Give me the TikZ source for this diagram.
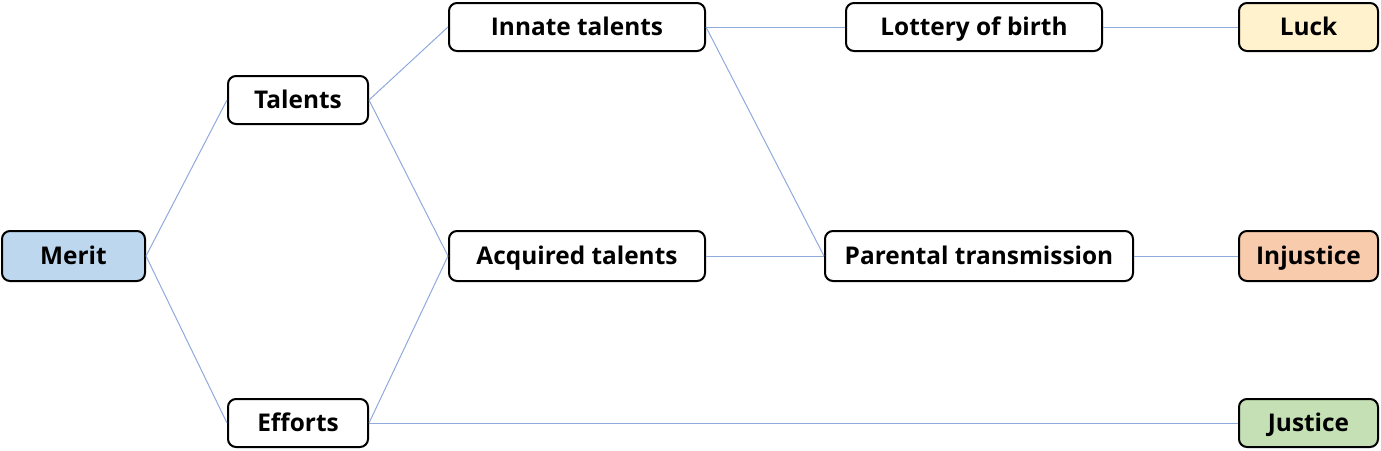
\documentclass[tikz,border=0pt]{standalone}
\usepackage{fontspec}
\setmainfont{Open Sans}
\usetikzlibrary{positioning}
\definecolor{meritblue}{HTML}{BDD7EE}
\definecolor{luckyellow}{HTML}{FFF2CC}
\definecolor{injusticeorange}{HTML}{F8CBAD}
\definecolor{justicegreen}{HTML}{C5E0B4}
\definecolor{linkblue}{HTML}{8FAADC}
\begin{document}
\begin{tikzpicture}[x=0.5pt, y=-0.5pt]
    \tikzset{
        box/.style = {rectangle, rounded corners=4pt, line width=1pt, draw=black, fill=white,
                      minimum height=24pt, inner sep=0pt, text height=8.7pt, text depth=0pt,
                      text centered, font=\bfseries\fontsize{12.2}{14}\selectfont},
        shortbox/.style = {box, minimum width=70pt},
        longbox/.style = {box, minimum width=128pt},
        link/.style = {draw=linkblue, line width=0.5pt}
    }
    \useasboundingbox (0,0) rectangle (1381,450);

    \node (merit) [shortbox, fill=meritblue, minimum width=71.5pt, minimum height=25pt] at (73.5,256) {Merit};
    \node (talents) [shortbox] at (298,100) {Talents};
    \node (efforts) [shortbox] at (298,423) {Efforts};

    \node (innate) [longbox] at (577,27) {Innate talents};
    \node (acquired) [longbox, minimum height=25pt] at (577,256) {Acquired talents};

    \node (lottery) [longbox] at (974,27) {Lottery of birth};
    \node (parental) [box, minimum width=154pt, minimum height=25pt] at (979,256) {Parental transmission};

    \node (luck) [shortbox, fill=luckyellow, minimum width=69.5pt] at (1308.5,27) {Luck};
    \node (injustice) [shortbox, fill=injusticeorange, minimum width=69.5pt, minimum height=25pt] at (1308.5,256) {Injustice};
    \node (justice) [shortbox, fill=justicegreen, minimum width=69.5pt] at (1308.5,423) {Justice};

    \draw [link] (merit.east) -- (talents.west);
    \draw [link] (merit.east) -- (efforts.west);
    \draw [link] (talents.east) -- (innate.west);
    \draw [link] (talents.east) -- (acquired.west);
    \draw [link] (efforts.east) -- (acquired.west);
    \draw [link] (efforts.east) -- (justice.west);
    \draw [link] (innate.east) -- (lottery.west);
    \draw [link] (innate.east) -- (parental.west);
    \draw [link] (acquired.east) -- (parental.west);
    \draw [link] (lottery.east) -- (luck.west);
    \draw [link] (parental.east) -- (injustice.west);
\end{tikzpicture}
\end{document}
